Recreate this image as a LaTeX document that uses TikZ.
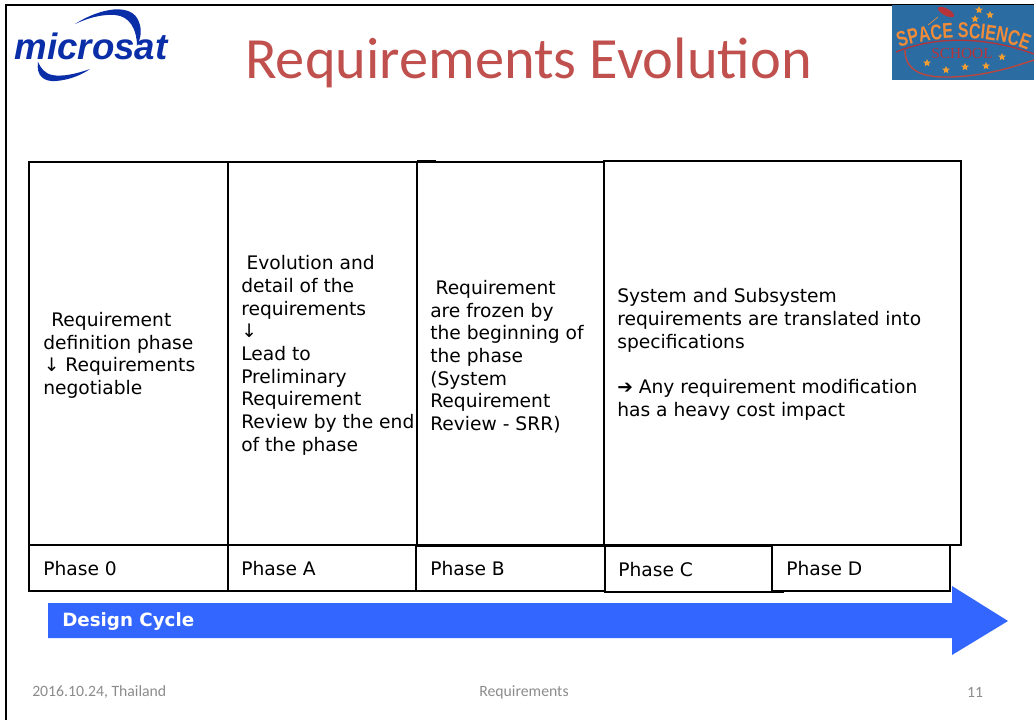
\documentclass[tikz,border=0pt]{standalone}
\usepackage{fontspec}
\setmainfont{DejaVu Sans}
\newfontfamily\titlefont{Carlito}
\newfontfamily\logofont{Liberation Sans}
\newfontfamily\badgefont[FakeStretch=0.75]{Liberation Sans}
\newfontfamily\schoolfont{Liberation Serif}
\usetikzlibrary{shapes.geometric, decorations.text}
\definecolor{titlered}{HTML}{C0504D}
\definecolor{cycleblue}{HTML}{3366FF}
\definecolor{logoblue}{HTML}{0A2DA8}
\definecolor{badgeblue}{HTML}{2B6CA3}
\definecolor{badgeorange}{HTML}{F28C38}
\definecolor{badgered}{HTML}{B5343A}
\definecolor{footgrey}{HTML}{8B8B8B}
\tikzset{
	cellbox/.style={draw, line width=0.9pt, anchor=north west, inner sep=0pt, outer sep=0pt},
	celltext/.style={anchor=west, align=left, inner sep=0pt, font=\fontsize{14}{17}\selectfont},
	phasetext/.style={anchor=west, inner sep=0pt, font=\fontsize{14}{17}\selectfont},
	foottext/.style={inner sep=0pt, text=footgrey, font=\titlefont\fontsize{11.8}{14}\selectfont},
	badgestar/.style={star, star points=5, star point ratio=2.2, fill=badgeorange!85!yellow, inner sep=0pt, minimum size=6pt}
}
\begin{document}
\begin{tikzpicture}[x=0.75pt, y=-0.75pt]
	\useasboundingbox (0,0) rectangle (1034,720);

	% Slide frame
	\coordinate (frametop) at (1034,5);
	\coordinate (framecorner) at (6,5);
	\coordinate (framebottom) at (6,720);
	\draw[line width=2pt] (frametop) -- (framecorner) -- (framebottom);

	% Title
	\node[inner sep=0pt, text=titlered, font=\titlefont\fontsize{43.8}{50}\selectfont] (title) at (528.5,63) {Requirements Evolution};

	% Microsat logo
	\fill[logoblue] (75,24) .. controls (100,8) and (132,2) .. (139,22) .. controls (142,30) and (141,38) .. (137,46) .. controls (137,30) and (130,16) .. (115,15) .. controls (102,14) and (88,18) .. (75,24) -- cycle;
	\fill[logoblue] (38,62) .. controls (36,76) and (44,82) .. (56,81) .. controls (68,80) and (80,76) .. (90,69) .. controls (76,74) and (62,77) .. (52,75) .. controls (44,73) and (41,68) .. (38,62) -- cycle;
	\node[inner sep=0pt, text=logoblue, font=\logofont\bfseries\itshape\fontsize{27.5}{30}\selectfont] (logo) at (91,46) {microsat};

	% Space science badge
	\fill[badgeblue] (892,5) rectangle (1034,80);
	\draw[badgered, line width=1pt] (896,52) .. controls (935,36) and (985,36) .. (1034,54);
	\draw[badgered!80!badgeorange, line width=1pt] (905,50) .. controls (905,68) and (918,78) .. (950,77) .. controls (985,76) and (1010,68) .. (1034,60);
	\path[postaction={decorate, decoration={text along path, text align=center, text={|\badgefont\bfseries\fontsize{16}{16}\selectfont\color{badgeorange}|SPACE SCIENCE}}}] (897,49) .. controls (935,34) and (990,34) .. (1030,51);
	\node[inner sep=0pt, text=badgered, font=\schoolfont\fontsize{11.5}{12}\selectfont] (school) at (962,54) {SCHOOL};
	\fill[badgered, rotate around={-28:(946,12)}] (946,12) ellipse (9 and 3.5);
	\draw[badgeorange, line width=0.5pt] (928,25) -- (938,17);
	\foreach \starname/\starx/\stary in {a/927/63, b/946/70, c/965/67, d/986/66, e/1002/57, f/975/19, g/990/15, h/979/10}
		\node[badgestar] (star\starname) at (\starx,\stary) {};

	% Upper cells
	\node[cellbox, minimum width=149.25pt, minimum height=287.25pt] (cell0) at (29,162) {};
	\node[cellbox, minimum width=141.75pt, minimum height=287.25pt] (cellA) at (228,162) {};
	\node[cellbox, minimum width=140.25pt, minimum height=288pt] (cellB) at (417,162) {};
	\node[cellbox, minimum width=267.75pt, minimum height=288pt] (cellC) at (604,161) {};
	\coordinate (stubleft) at (417,161);
	\coordinate (stubright) at (436,161);
	\draw[line width=0.9pt] (stubleft) -- (stubright);

	% Cell texts
	\node[celltext] (text0) at (43,355.5) {\hspace*{6pt}Requirement\\definition phase\\\hspace*{0.5pt}↓ Requirements\\negotiable};
	\node[celltext] (textA) at (241,355.5) {\hspace*{4pt}Evolution and\\detail of the\\requirements\\↓\\Lead to\\Preliminary\\Requirement\\Review by the end\\of the phase};
	\node[celltext] (textB) at (430,356.5) {\hspace*{4pt}Requirement\\are frozen by\\the beginning of\\the phase\\(System\\Requirement\\Review - SRR)};
	\node[celltext] (textC) at (617,354.5) {System and Subsystem\\requirements are translated into\\specifications\\[17pt]➔ Any requirement modification\\has a heavy cost impact};

	% Phase row
	\node[cellbox, minimum width=149.25pt, minimum height=34.5pt] (phase0) at (29,545) {};
	\node[cellbox, minimum width=141pt, minimum height=34.5pt] (phaseA) at (228,545) {};
	\node[cellbox, minimum width=141.75pt, minimum height=34.5pt] (phaseB) at (416,545) {};
	\node[cellbox, minimum width=125.25pt, minimum height=34.5pt] (phaseC) at (605,546) {};
	\node[cellbox, minimum width=133.5pt, minimum height=34.5pt] (phaseD) at (772,545) {};
	\coordinate (phasestub) at (784,592);
	\draw[line width=0.9pt] (phaseC.south east) -- (phasestub);
	\node[phasetext] (label0) at (43,569) {Phase 0};
	\node[phasetext] (labelA) at (241,569) {Phase A};
	\node[phasetext] (labelB) at (430,568.5) {Phase B};
	\node[phasetext] (labelC) at (618,570) {Phase C};
	\node[phasetext] (labelD) at (786,568.5) {Phase D};

	% Design cycle arrow
	\fill[cycleblue] (48,603) -- (952,603) -- (952,586) -- (1008,621) -- (952,655) -- (952,638) -- (48,638) -- cycle;
	\node[anchor=west, inner sep=0pt, text=white, font=\bfseries\fontsize{13.7}{17}\selectfont] (cycle) at (62,622) {Design Cycle};

	% Footer
	\node[foottext, anchor=west] (footdate) at (32,692) {2016.10.24, Thailand};
	\node[foottext] (foottopic) at (524,692) {Requirements};
	\node[foottext] (footpage) at (975,692) {11};
\end{tikzpicture}
\end{document}
